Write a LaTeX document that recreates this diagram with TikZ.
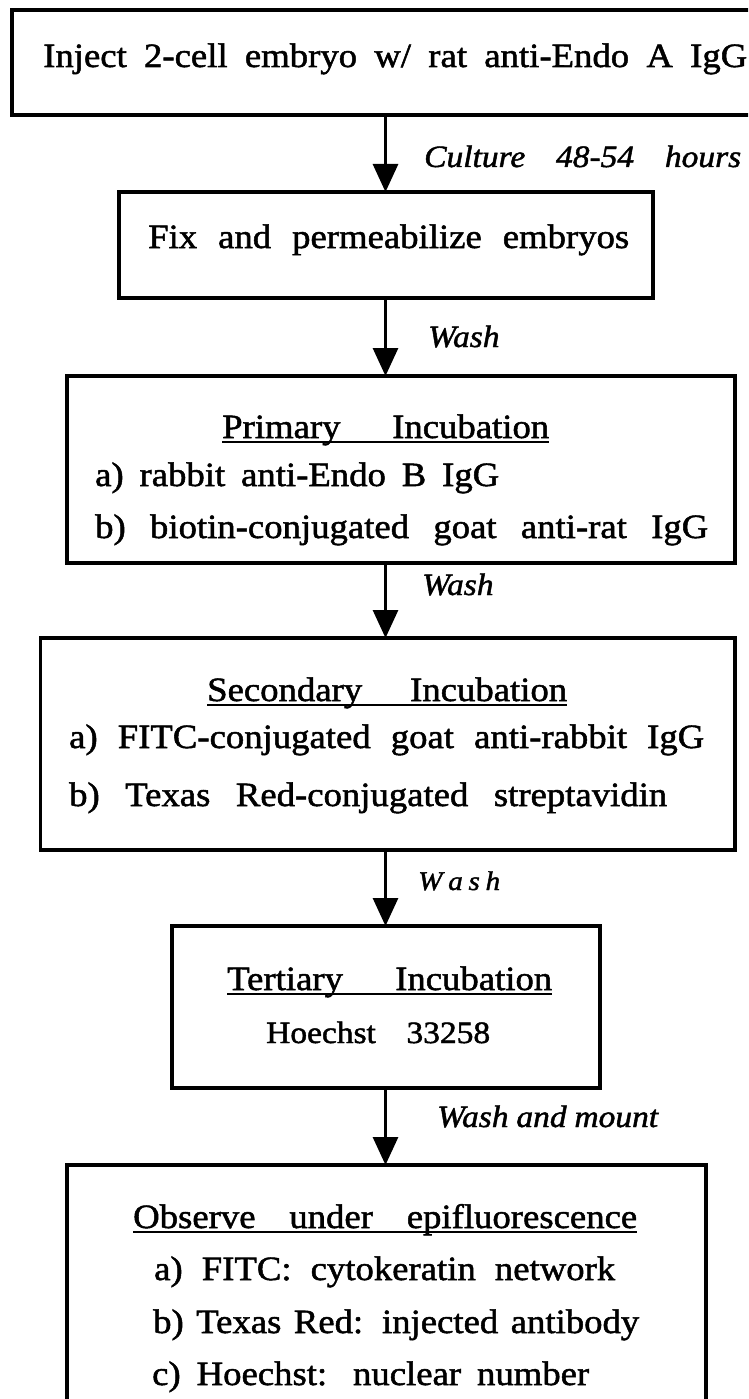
\documentclass[tikz,border=0pt]{standalone}
\usepackage{fontspec}
\setmainfont{Liberation Serif}[FakeStretch=1.08, UprightFeatures={FakeBold=1.5}, ItalicFeatures={FakeBold=1.5}]
\usetikzlibrary{arrows.meta}

\newcommand{\spread}[2]{\makebox[#1][s]{#2}}
\newcommand{\ulfill}[2]{\makebox[0pt][l]{\rule[-5pt]{#1}{1.6pt}}\makebox[#1][s]{#2}}

\begin{document}
\begin{tikzpicture}[x=1pt, y=-1pt,
  stage/.style={draw, line width=3.5pt, inner sep=0pt, outer sep=0pt},
  txt/.style={anchor=base west, inner sep=0pt, font=\fontsize{34pt}{37pt}\selectfont},
  lbl/.style={anchor=base west, inner sep=0pt, font=\fontsize{31pt}{34pt}\selectfont\itshape},
  flow/.style={line width=3pt, -{Triangle[width=25pt,length=28pt]}}]

% Page frame
\useasboundingbox (0,0) rectangle (748,1399);
\clip (0,0) rectangle (748,1399);

% Boxes
\node[stage, minimum width=766pt, minimum height=105pt] (inject) at (395,62.5) {};
\node[stage, minimum width=534pt, minimum height=106pt] (fix) at (386,245) {};
\node[stage, minimum width=668pt, minimum height=187pt] (primary) at (401,469.5) {};
\node[stage, minimum width=694.5pt, minimum height=212pt] (secondary) at (387.75,744) {};
\node[stage, minimum width=428pt, minimum height=162pt] (tertiary) at (386,1007) {};
\node[stage, minimum width=639pt, minimum height=310pt] (observe) at (386.5,1320) {};

% Box texts
\node[txt] (injecttxt) at (43,67) {\spread{704pt}{Inject 2-cell embryo w/ rat anti-Endo A IgG}};
\node[txt] (fixtxt) at (148,248) {\spread{481pt}{Fix and permeabilize embryos}};

\node[txt] (primtitle) at (222,438) {\ulfill{327pt}{Primary Incubation}};
\node[txt] (prima) at (95,486) {\spread{404pt}{a) rabbit anti-Endo B IgG}};
\node[txt] (primb) at (95,538) {\spread{613pt}{b) biotin-conjugated goat anti-rat IgG}};

\node[txt] (sectitle) at (207,701) {\ulfill{360pt}{Secondary Incubation}};
\node[txt] (seca) at (69,748) {\spread{635pt}{a) FITC-conjugated goat anti-rabbit IgG}};
\node[txt] (secb) at (69,806) {\spread{598pt}{b) Texas Red-conjugated streptavidin}};

\node[txt] (terttitle) at (227,990) {\ulfill{325pt}{Tertiary Incubation}};
\node[txt, font=\fontsize{31pt}{34pt}\selectfont] (terta) at (266,1043) {\spread{224pt}{Hoechst 33258}};

\node[txt] (obstitle) at (133,1228) {\ulfill{504pt}{Observe under epifluorescence}};
\node[txt] (obsa) at (154,1280) {\spread{461pt}{a) FITC: cytokeratin network}};
\node[txt] (obsb) at (153,1333) {\spread{486pt}{b) Texas Red: injected antibody}};
\node[txt] (obsc) at (152,1385) {\spread{437pt}{c) Hoechst: nuclear number}};

% Spine of the flow
\coordinate (spine) at (385.5,0);

% Arrows
\draw[flow] (spine |- inject.south) -- (spine |- fix.north);
\draw[flow] (spine |- fix.south) -- (spine |- primary.north);
\draw[flow] (spine |- primary.south) -- (spine |- secondary.north);
\draw[flow] (spine |- secondary.south) -- (spine |- tertiary.north);
\draw[flow] (spine |- tertiary.south) -- (spine |- observe.north);

% Arrow labels
\node[lbl] (culture) at (424,167) {\spread{317pt}{Culture 48-54 hours}};
\node[lbl] (washA) at (428,347) {Wash};
\node[lbl] (washB) at (422,595) {Wash};
\node[lbl, font=\fontsize{27pt}{30pt}\selectfont\itshape] (washC) at (418,890) {\makebox[82pt]{W\hfill a\hfill s\hfill h}};
\node[lbl] (mount) at (437,1127) {\spread{221pt}{Wash and mount}};

\end{tikzpicture}
\end{document}
